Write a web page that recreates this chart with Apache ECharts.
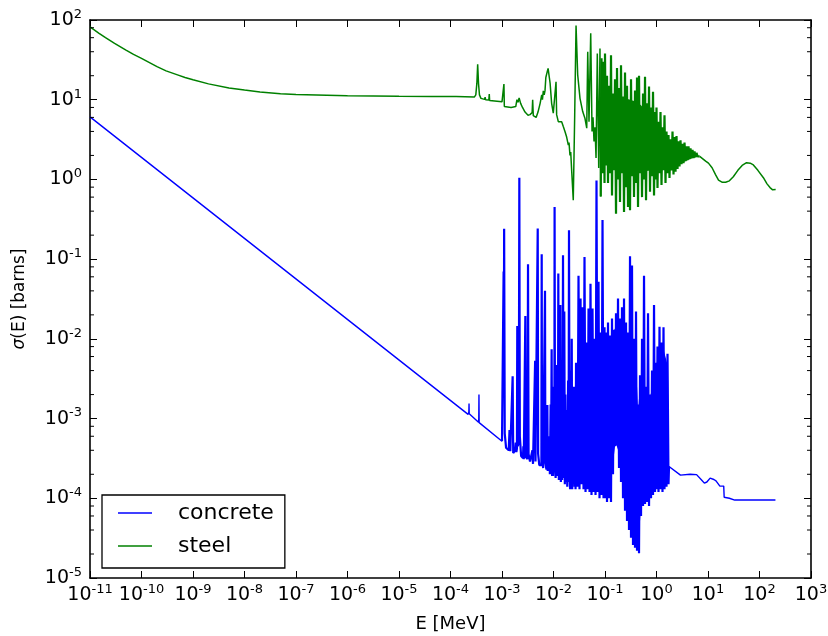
<!DOCTYPE html>
<html><head><meta charset="utf-8">
<script src="https://cdn.jsdelivr.net/npm/echarts@6/dist/echarts.min.js"></script>
<style>html,body{margin:0;padding:0;background:#fff}#c{width:828px;height:636px}</style>
</head><body><div id="c"></div>
<script>
// ---------- tick definitions ----------
const xTicks = [1e-11,1e-10,1e-9,1e-8,1e-7,1e-6,1e-5,1e-4,1e-3,1e-2,1e-1,1,10,100,1000];
const yTicks = [1e-5,1e-4,1e-3,1e-2,1e-1,1,10,100];
const yMinorTicks = [2e-5,4e-5,6e-5,8e-5,2e-4,4e-4,6e-4,8e-4,2e-3,4e-3,6e-3,8e-3,2e-2,4e-2,6e-2,8e-2,0.2,0.4,0.6,0.8,2,4,6,8,20,40,60,80];

// ---------- concrete: [E (MeV), sigma (barns)] ----------
const concrete1v = [[1e-11,6.1],[2.2e-4,1.13e-3],[2.27e-4,1.2e-3],[2.29e-4,1.55e-3],[2.31e-4,1.15e-3],[3.5e-4,9.0e-4],[3.54e-4,1.0e-3],[3.57e-4,2.0e-3],[3.6e-4,8.9e-4],[1.0e-3,5.2e-4]];
const concreteRes = [[1.0e-3,5.2e-4],[1.06e-3,5.0e-4],[1.075e-3,7.0e-2],[1.085e-3,3.0e-3],[1.10e-3,0.24],[1.13e-3,6.5e-4],[1.2e-3,4.3e-4],
[1.35e-3,4.0e-4],[1.40e-3,7.2e-4],[1.45e-3,3.9e-4],[1.57e-3,3.8e-4],[1.61e-3,3.4e-3],[1.65e-3,3.7e-4],
[1.80e-3,4.0e-4],[1.85e-3,5.0e-4],[1.90e-3,3.8e-4],[1.95e-3,4.2e-4],[1.98e-3,1.45e-2],[2.02e-3,4.5e-4],
[2.12e-3,5.0e-4],[2.17e-3,1.05],[2.22e-3,6.0e-4],[2.35e-3,3.4e-4],[2.55e-3,3.2e-4],[2.6e-3,4.5e-4],[2.65e-3,3.1e-4],
[2.79e-3,3.2e-4],[2.84e-3,1.94e-2],[2.90e-3,3.3e-4],[3.13e-3,3.1e-4],[3.20e-3,8.6e-2],[3.28e-3,3.6e-4],[3.5e-3,2.9e-4],
[3.8e-3,2.8e-4],[3.9e-3,4e-4],[4.0e-3,2.7e-4],[4.33e-3,2.7e-4],[4.40e-3,5.3e-3],[4.47e-3,2.9e-4],
[4.86e-3,2.8e-4],[4.94e-3,0.243],[5.03e-3,3.6e-4],[5.3e-3,2.6e-4],[5.82e-3,2.6e-4],[5.90e-3,0.115],[5.99e-3,3.0e-4],[6.3e-3,2.4e-4],
[6.74e-3,2.5e-4],[6.84e-3,4.0e-2],[6.94e-3,2.8e-4],[7.3e-3,2.3e-4],[7.5e-3,2.3e-4],[7.6e-3,1.48e-3],[7.72e-3,2.2e-4],
[8.1e-3,2.1e-4],[8.3e-3,6e-4],[8.5e-3,2.0e-4],[8.8e-3,1.5e-3],[8.95e-3,2.0e-4],[9.2e-3,7.4e-3],[9.4e-3,1.9e-4],[9.6e-3,2.5e-3],[9.8e-3,1.9e-4],
[1.01e-2,2.0e-4],[1.03e-2,1.5e-3],[1.04e-2,3e-4],[1.05e-2,0.45],[1.07e-2,2.5e-4],
[1.10e-2,1.8e-4],[1.13e-2,1.0e-3],[1.15e-2,2.0e-4],[1.17e-2,4.7e-3],[1.20e-2,1.9e-4],
[1.22e-2,3e-4],[1.24e-2,6.6e-2],[1.27e-2,1.7e-4],[1.30e-2,2.0e-3],[1.33e-2,1.8e-4],
[1.36e-2,2.65e-2],[1.39e-2,1.6e-4],[1.43e-2,3.0e-3],[1.47e-2,1.7e-4],[1.50e-2,6e-4],
[1.53e-2,0.112],[1.57e-2,1.8e-4],[1.62e-2,2.2e-2],[1.66e-2,1.5e-4],[1.70e-2,2.0e-3],
[1.74e-2,1.6e-4],[1.80e-2,1.28e-3],[1.85e-2,1.4e-4],[1.92e-2,3.0e-3],[1.96e-2,1.6e-4],
[2.0e-2,0.23],[2.05e-2,2.0e-4],[2.1e-2,1.3e-4],[2.16e-2,4.0e-3],[2.2e-2,1.4e-4],
[2.26e-2,1.0e-2],[2.31e-2,1.3e-4],[2.38e-2,1.8e-3],[2.43e-2,1.5e-4],[2.5e-2,2.5e-3],
[2.56e-2,1.4e-4],[2.62e-2,1.5e-3],[2.68e-2,1.3e-4],[2.74e-2,5.0e-3],[2.80e-2,1.5e-4],[2.87e-2,3.0e-3]];
const concreteDense = [[2.93e-2,1.4e-4],[3.06e-2,6.2e-2],[3.20e-2,1.3e-4],[3.35e-2,3.2e-2],[3.50e-2,1.5e-4],[3.66e-2,2.5e-2],[3.83e-2,1.3e-4],[4.00e-2,0.106],[4.19e-2,1.2e-4],[4.38e-2,9e-3],[4.58e-2,1.3e-4],[4.79e-2,2.4e-2],[5.01e-2,1.2e-4],[5.23e-2,4.9e-2],[5.47e-2,1.1e-4],[5.72e-2,2.4e-2],[5.99e-2,1.2e-4],[6.26e-2,1.0e-2],[6.55e-2,1.1e-4],[6.84e-2,0.97],[7.16e-2,1.2e-4],[7.49e-2,5.2e-2],[7.83e-2,1.0e-4],[8.19e-2,1.2e-2],[8.56e-2,1.1e-4],[8.95e-2,0.31],[9.36e-2,1.0e-4],[9.79e-2,1.4e-2],
[0.1,1.0e-4],[0.1046,1.2e-2],[0.1094,9e-5],[0.1144,1.6e-2],[0.1196,1.0e-4],[0.1251,1.1e-2],[0.1308,9e-5],[0.1368,1.8e-2],[0.143,2.0e-4],[0.1496,1.3e-2],[0.1564,4.5e-4],[0.1636,2.1e-2],[0.1711,4.6e-4],[0.1789,3.2e-2],[0.1871,2.4e-4],[0.1956,1.8e-2],[0.2046,1.6e-4],[0.2139,2.5e-2],[0.2237,1.0e-4],[0.234,3.2e-2],[0.2447,7e-5],[0.2559,1.6e-2],[0.2676,5.2e-5],[0.2798,1.2e-2],[0.2926,4.0e-5],[0.306,0.109],[0.32,3.2e-5],[0.3346,8.3e-2],[0.3499,2.6e-5],[0.3659,1.0e-2],[0.3827,2.4e-5],[0.4002,2.2e-2],[0.4185,2.2e-5],[0.4376,1.5e-3],[0.4576,2.05e-5],[0.4786,3.5e-3],[0.5005,6e-5],[0.5234,1.0e-2],[0.5473,8e-5],[0.5723,6.2e-2],[0.5985,8.5e-5],[0.6259,2.5e-3],[0.6545,9e-5],[0.6844,2.1e-2],[0.7157,8e-5],[0.7485,2e-3],[0.7827,1.0e-4],[0.8185,4e-3],[0.8559,1.1e-4],[0.8951,2.65e-2],[0.936,1.2e-4],[0.9789,5e-3],
[1.0,1.3e-4],[1.046,8e-3],[1.094,1.2e-4],[1.144,1.42e-2],[1.196,1.3e-4],[1.251,9e-3],[1.308,1.2e-4],[1.368,1.4e-2],[1.43,1.3e-4],[1.496,4e-3],[1.564,1.4e-4],[1.636,6.5e-3],[1.711,1.5e-4],[1.75,2.5e-4]];
const concreteFast = [[1.75,2.5e-4],[2.92,1.95e-4],[4.5,2.0e-4],[6.0,1.98e-4],[7.5,1.7e-4],[8.5,1.55e-4],[9.5,1.6e-4],[11,1.79e-4],[13,1.72e-4],[14.3,1.65e-4],[15.5,1.7e-4],[17,1.42e-4],[20.2,1.42e-4],[20.6,1.03e-4],[26,1.0e-4],[33,9.5e-5],[204,9.5e-5]];
// solid core of the concrete resonance forest (upper outline, then lower outline right to left)
const concreteCoreTop = [[2.5e-2,1.5e-3],[2.8e-2,4e-3],[3.5e-2,6e-3],[4.1e-2,5e-3],[5.0e-2,7e-3],[6.0e-2,4.5e-3],[7.0e-2,7e-3],[8.5e-2,8e-3],[0.1,9e-3],[0.12,8e-3],[0.143,1.2e-2],[0.17,1.5e-2],[0.2,1.3e-2],[0.24,1.5e-2],[0.27,1.0e-2],[0.31,8e-3],[0.35,6e-3],[0.4,5e-3],[0.44,1.2e-3],[0.48,3e-3],[0.55,2.5e-3],[0.65,2e-3],[0.75,1.8e-3],[0.86,3e-3],[0.95,3.5e-3],[1.05,6e-3],[1.2,8e-3],[1.4,7e-3],[1.6,5e-3],[1.68,3e-3]];
const concreteCoreBottom = [[1.68,2.5e-4],[1.4,1.8e-4],[1.0,1.8e-4],[0.8,1.6e-4],[0.66,1.3e-4],[0.55,1.2e-4],[0.5,8e-5],[0.46,3.5e-5],[0.4,4e-5],[0.35,5e-5],[0.3,6e-5],[0.27,8e-5],[0.23,1.3e-4],[0.2,2.2e-4],[0.18,4e-4],[0.16,5e-4],[0.145,3e-4],[0.13,1.5e-4],[0.1,1.4e-4],[0.08,1.6e-4],[0.06,1.7e-4],[0.04,2e-4],[0.03,2.2e-4],[2.5e-2,2.5e-4]];

// ---------- steel ----------
const steelThermal = [[1e-11,82],[1.5e-11,68],[2e-11,60],[3e-11,51],[5e-11,42],[7e-11,37],[1e-10,33],[2e-10,26],[3e-10,23],[5e-10,20.5],[7e-10,19],[1e-9,17.8],[2e-9,15.8],[5e-9,14.0],[1e-8,13.2],[2e-8,12.5],[5e-8,11.9],[1e-7,11.6],[1e-6,11.2],[1e-5,11.05],[4.3e-5,11.0],[4.5e-5,11.6],[4.7e-5,11.0],[1.28e-4,10.95],[1.32e-4,11.6],[1.36e-4,10.9],[2.9e-4,10.8]];
const steelRes = [[2.9e-4,10.8],[3.1e-4,11.5],[3.25e-4,16],[3.37e-4,27.8],[3.5e-4,16],[3.65e-4,11.5],[3.9e-4,10.4],[4.6e-4,10.1],[4.7e-4,10.8],[4.8e-4,10.0],[5.55e-4,9.9],[5.66e-4,11.8],[5.75e-4,9.8],[1.0e-3,9.4],[1.06e-3,9.3],[1.09e-3,15.7],[1.11e-3,8.2],[1.5e-3,8.0],[1.85e-3,8.2],[1.95e-3,10.0],[2.05e-3,9.3],[2.15e-3,10.5],[2.3e-3,9.0],[2.5e-3,8.0],[2.8e-3,7.0],[3.2e-3,6.4],[3.5e-3,6.5],[3.85e-3,6.9],[3.94e-3,10],[4.05e-3,6.3],[4.6e-3,6.0],[5.0e-3,7.0],[5.5e-3,9.0],[5.9e-3,11.5],[6.1e-3,10],[6.34e-3,12.9],[6.6e-3,11.5],[6.84e-3,13],[7.1e-3,19],[7.5e-3,22],[7.85e-3,24.7],[8.3e-3,19],[8.6e-3,16],[9.2e-3,9],[9.9e-3,6.8],[1.08e-2,7.0],[1.12e-2,16.8],[1.15e-2,6.5],[1.24e-2,5.3],[1.35e-2,5.6],[1.44e-2,5.3],[1.55e-2,4.6],[1.67e-2,4.0],[1.8e-2,3.4],[1.94e-2,2.7],[2.0e-2,2.9],[2.09e-2,2.0],[2.16e-2,2.2],[2.26e-2,1.25],[2.42e-2,0.55],[2.58e-2,6.4],[2.74e-2,85],[2.95e-2,20.5],[3.27e-2,10.4],[3.69e-2,7.1],[4.09e-2,5.8],[4.42e-2,4.4],[4.62e-2,40],[4.89e-2,5.3],[5.28e-2,68],[5.6e-2,4.0],[5.85e-2,6.0],[6.12e-2,3.0],[6.4e-2,4.5],[6.7e-2,1.86],[7.09e-2,38],[7.55e-2,1.39],[7.99e-2,44],[8.26e-2,0.61]];
const steelDense = [[8.26e-2,0.61],[8.56e-2,33],[8.95e-2,1.2],[9.36e-2,30],[9.79e-2,0.9],[0.1,38],[0.1046,1.5],[0.1094,20],[0.1144,0.9],[0.1196,15],[0.1251,1.2],[0.1308,36],[0.1368,0.63],[0.143,12],[0.1496,1.3],[0.1564,18],[0.1636,0.37],[0.1711,25],[0.1789,1.0],[0.1871,14],[0.1956,0.52],[0.2046,27],[0.2139,1.2],[0.2237,11],[0.234,0.39],[0.2447,22],[0.2559,0.8],[0.2676,15],[0.2798,0.45],[0.2926,10],[0.306,0.41],[0.32,18],[0.3346,1.1],[0.3499,9],[0.3659,0.6],[0.3827,13],[0.4002,0.9],[0.4185,19],[0.4376,0.45],[0.4576,20],[0.4786,1.2],[0.5005,8],[0.5234,0.6],[0.5473,12],[0.5723,1.0],[0.5985,19.4],[0.6259,0.55],[0.6545,9],[0.6844,1.3],[0.7157,14.6],[0.7485,0.7],[0.7827,8],[0.8185,1.1],[0.8559,12.6],[0.8951,0.63],[0.936,7],[0.9789,1.0],
[1.0,8],[1.046,0.78],[1.094,5.3],[1.144,1.2],[1.196,7.0],[1.251,0.85],[1.308,4.5],[1.368,1.3],[1.43,6.4],[1.496,0.9],[1.564,4.0],[1.636,1.2],[1.711,3.6],[1.789,1.04],[1.871,3.2],[1.956,1.3],[2.046,4.0],[2.139,1.15],[2.237,3.4],[2.34,1.25],[2.447,3.5],[2.559,1.35],[2.676,3.0],[2.798,1.45],[2.926,3.1],[3.06,1.55],[3.2,2.8],[3.346,1.6],[3.499,2.9],[3.659,1.7],[3.827,2.6],[4.002,1.75],[4.185,2.6],[4.376,1.8],[4.576,2.45],[4.786,1.85],[5.005,2.35],[5.234,1.85],[5.473,2.25],[5.723,1.9],[5.985,2.15],[6.259,1.95],[6.9,1.95]];
const steelFast = [[6.9,1.95],[7.5,1.85],[9.0,1.7],[10.2,1.6],[12,1.4],[14,1.15],[16,0.98],[19,0.92],[22,0.92],[26,0.96],[31,1.08],[38,1.3],[46,1.5],[56,1.62],[66,1.6],[76,1.52],[93,1.3],[119,1.05],[140,0.88],[160,0.79],[180,0.74],[206,0.745]];
const steelCoreTop = [[0.1,7],[0.12,9],[0.15,10],[0.2,11],[0.3,10],[0.4,9.5],[0.5,8.5],[0.65,7],[0.8,6],[1.0,4.8],[1.2,4.0],[1.5,3.4],[2.0,2.9],[3.0,2.5],[4.5,2.2],[6.0,2.0]];
const steelCoreBottom = [[6.0,1.92],[4.5,1.8],[3.0,1.6],[2.0,1.45],[1.2,1.35],[0.8,1.3],[0.5,1.25],[0.3,1.2],[0.2,1.25],[0.15,1.35],[0.1,1.6]];

const FONT = 'DejaVu Sans';
const BLUE = '#0000ff', GREEN = '#008000';
const powRich = {
  b: {fontSize: 19, fontFamily: FONT, color: '#000', lineHeight: 24},
  s: {fontSize: 13, fontFamily: FONT, color: '#000', lineHeight: 10, verticalAlign: 'top'}
};
const powFmt = v => '{b|10}{s|' + Math.round(Math.log10(v)) + '}';
const lineStyleAxis = {show: true, lineStyle: {color: '#000', width: 1.6}};

function axisBase(ticks, extra) {
  return Object.assign({type: 'log', logBase: 10, min: ticks[0], max: ticks[ticks.length - 1],
    axisLine: lineStyleAxis,
    axisTick: {show: true, inside: true, length: 7, lineStyle: {color: '#000', width: 1}, customValues: ticks},
    splitLine: {show: false}, minorTick: {show: false}}, extra);
}
function labels(ticks, margin) {
  return {show: true, formatter: powFmt, rich: powRich, margin: margin, color: '#000', customValues: ticks};
}
function lineSeries(name, data, color, width) {
  return {name: name, type: 'line', data: data, xAxisIndex: 0, yAxisIndex: 0, showSymbol: false, symbol: 'none',
    lineStyle: {color: color, width: width, join: 'bevel'}, itemStyle: {color: color}, z: name === 'concrete' ? 3 : 2};
}
function coreSeries(top, bottom, color, z) {
  const pts = top.concat(bottom);
  return {type: 'custom', xAxisIndex: 0, yAxisIndex: 0, silent: true, z: z, data: pts,
    renderItem: function (params, api) {
      if (params.dataIndex !== 0) return null;
      return {type: 'polygon', shape: {points: pts.map(p => api.coord(p))}, style: {fill: color}};
    }};
}

const chart = echarts.init(document.getElementById('c'), null, {renderer: 'canvas'});
chart.setOption({
  animation: false,
  backgroundColor: '#fff',
  grid: {left: 90, top: 20, right: 17, bottom: 58, containLabel: false, outerBoundsMode: 'none'},
  xAxis: [
    axisBase(xTicks, {position: 'bottom', name: 'E [MeV]', nameLocation: 'middle', nameGap: 37,
      nameTextStyle: {fontSize: 18, fontFamily: FONT, color: '#000'}, axisLabel: labels(xTicks, 5)}),
    axisBase(xTicks, {position: 'top', axisLabel: {show: false}})
  ],
  yAxis: [
    axisBase(yTicks, {position: 'left', name: '{i|σ}(E) [barns]', nameLocation: 'middle', nameGap: 62, nameRotate: 90,
      nameTextStyle: {fontSize: 17, fontFamily: FONT, color: '#000', rich: {i: {fontStyle: 'italic', fontSize: 17, fontFamily: FONT, color: '#000'}}},
      axisLabel: labels(yTicks, 8)}),
    axisBase(yTicks, {position: 'right', axisLabel: {show: false}})
  ],
  legend: {
    data: ['concrete', 'steel'], orient: 'vertical', left: 102, top: 495,
    padding: [6, 11, 10, 16], itemWidth: 34, itemHeight: 1.6, itemGap: 9, icon: 'rect',
    borderColor: '#000', borderWidth: 1.3, borderRadius: 0, selectedMode: false,
    textStyle: {fontSize: 22, fontFamily: FONT, color: '#000', lineHeight: 24, padding: [0, 0, 0, 21]}
  },
  series: [
    lineSeries('concrete', concrete1v, BLUE, 1.4),
    lineSeries('concrete', concreteRes.concat(concreteDense), BLUE, 2.2),
    lineSeries('concrete', concreteFast, BLUE, 1.4),
    lineSeries('steel', steelThermal.concat(steelRes), GREEN, 1.5),
    lineSeries('steel', steelDense, GREEN, 2.2),
    lineSeries('steel', steelFast, GREEN, 1.5),
    coreSeries(concreteCoreTop, concreteCoreBottom, BLUE, 3),
    coreSeries(steelCoreTop, steelCoreBottom, GREEN, 2),
    {name: 'minorTicks', type: 'custom', xAxisIndex: 0, yAxisIndex: 0, silent: true, z: 10,
      data: yMinorTicks.map(v => [1, v]),
      renderItem: function (params, api) {
        const p = api.coord([1, api.value(1)]);
        const cs = params.coordSys;
        return {type: 'group', children: [
          {type: 'line', shape: {x1: cs.x, y1: p[1], x2: cs.x + 4, y2: p[1]}, style: {stroke: '#000', lineWidth: 1}},
          {type: 'line', shape: {x1: cs.x + cs.width, y1: p[1], x2: cs.x + cs.width - 4, y2: p[1]}, style: {stroke: '#000', lineWidth: 1}}
        ]};
      }}
  ]
});
</script></body></html>
